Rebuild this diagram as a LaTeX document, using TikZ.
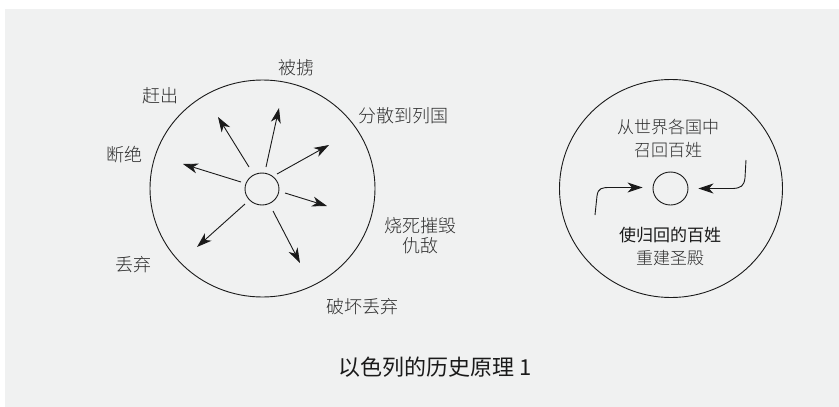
\documentclass[tikz,border=0pt]{standalone}
\usepackage{fontspec}
\newfontfamily\cjkl{Noto Sans CJK SC Light}
\newfontfamily\cjk{Noto Sans CJK SC}
\usetikzlibrary{arrows.meta,shapes.geometric}
\definecolor{bg}{HTML}{F0F1F1}
\definecolor{ink}{HTML}{1A1A1A}
\definecolor{txt}{HTML}{2E2E2E}
\begin{document}
\begin{tikzpicture}[x=1pt,y=-1pt,
  lbl/.style={font=\cjkl\fontsize{18}{20}\selectfont, text=txt, inner sep=0pt, align=center},
  rlbl/.style={font=\cjkl\fontsize{17}{23}\selectfont, text=txt, inner sep=0pt, align=center},
  rbold/.style={font=\cjk\fontsize{17}{23}\selectfont, text=ink, inner sep=0pt, align=center},
  big/.style={draw=ink, line width=0.9pt, ellipse, inner sep=0pt},
  core/.style={draw=ink, line width=0.9pt, ellipse, inner sep=0pt},
  arr/.style={draw=ink, line width=0.9pt, -{Stealth[length=15pt,width=10pt,inset=4.5pt]}}]
\useasboundingbox (0,0) rectangle (839,407);
\fill[bg] (5,9) rectangle (839,407);
% left circle
\node[big, minimum width=225pt, minimum height=217pt] (L) at (262.5,188.5) {};
\node[core, minimum width=34pt, minimum height=32pt] (c1) at (262,189) {};
\coordinate (s1) at (249,167); \coordinate (e1) at (218,117);
\coordinate (s2) at (266,167); \coordinate (e2) at (279,108);
\coordinate (s3) at (277,174); \coordinate (e3) at (329,145);
\coordinate (s4) at (241,182); \coordinate (e4) at (183,164);
\coordinate (s5) at (285,193); \coordinate (e5) at (327,206);
\coordinate (s6) at (245,204); \coordinate (e6) at (197,247);
\coordinate (s7) at (273,211); \coordinate (e7) at (300,263);
\foreach \i in {1,...,7} {\draw[arr] (s\i) -- (e\i);}
\node[lbl] (t1) at (296,68) {被掳};
\node[lbl] (t2) at (160,96) {赶出};
\node[lbl] (t3) at (403,116) {分散到列国};
\node[lbl] (t4) at (124,155) {断绝};
\node[lbl] (t5) at (420,236) {烧死摧毁\\仇敌};
\node[lbl] (t6) at (133,265) {丢弃};
\node[lbl] (t7) at (362,307) {破坏丢弃};
% right circle
\node[big, minimum width=223pt, minimum height=218pt] (R) at (671,188.5) {};
\node[core, minimum width=35pt, minimum height=33pt] (c2) at (670.5,188.5) {};
\node[rlbl] (r1) at (668,138.5) {从世界各国中\\召回百姓};
\node[rbold] (r2) at (670,235) {使归回的百姓};
\node[rlbl] (r3) at (670,258) {重建圣殿};
\coordinate (la) at (595,215);
\coordinate (ra) at (746,160);
\draw[arr] (la) -- (597,196) .. controls (598,188) and (602,187.5) .. (610,187.5) -- ([xshift=-10pt,yshift=1pt]c2.west);
\draw[arr] (ra) -- (745,178) .. controls (744,186) and (741,188) .. (733,188.5) -- ([xshift=10pt]c2.east);
% title
\node[font=\cjk\fontsize{22}{26}\selectfont, text=ink, inner sep=0pt] (title) at (435,367) {以色列的历史原理 1};
\end{tikzpicture}
\end{document}
